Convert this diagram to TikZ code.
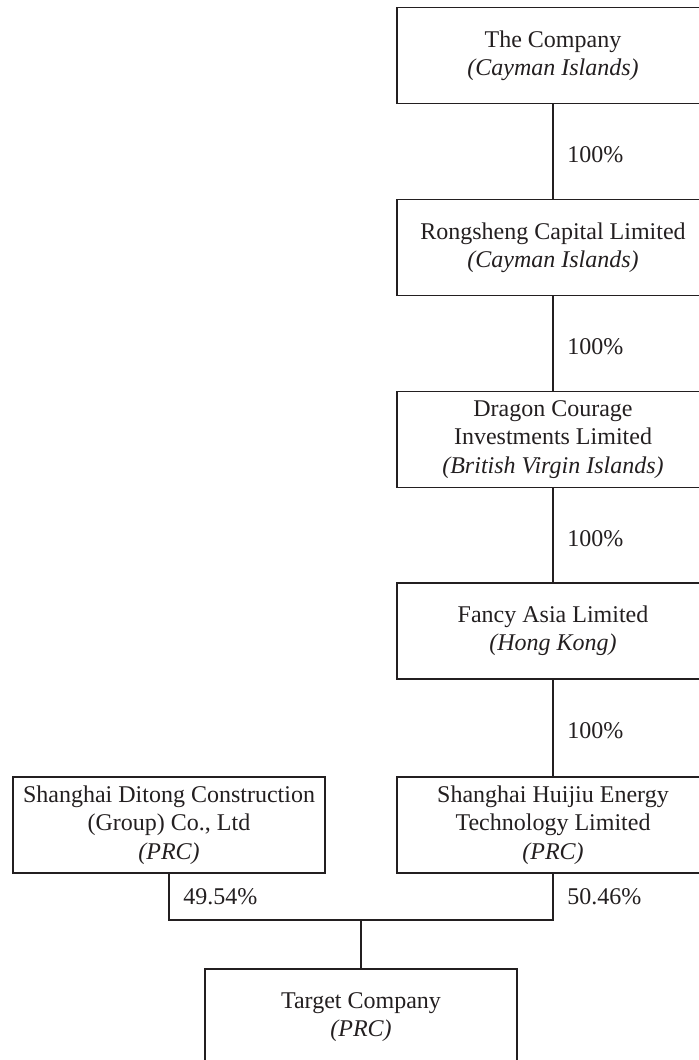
\documentclass[tikz,border=0pt]{standalone}
\usepackage{fontspec}
\setmainfont{Liberation Serif}
\usepackage{xcolor}
\usepackage{tikz}
\definecolor{ink}{HTML}{231F20}

\begin{document}
\begin{tikzpicture}[x=0.5pt,y=-0.5pt,
    ent/.style={draw=ink,line width=0.6pt,minimum width=156pt,minimum height=48pt,align=center,text=ink,font=\fontsize{12}{14.2}\selectfont},
    pct/.style={right,text=ink,xshift=3.5pt,yshift=-1.5pt,font=\fontsize{12}{14.2}\selectfont}]
      \useasboundingbox (0,0) rectangle (699,1060);
      \clip (0,0) rectangle (699,1060);
      \node[ent] (co) at (553,55.5) {The Company\\\textit{(Cayman Islands)}};
      \node[ent] (rong) at (553,247.5) {Rongsheng Capital Limited\\\textit{(Cayman Islands)}};
      \node[ent] (dragon) at (553,439.5) {Dragon Courage\\Investments Limited\\\textit{(British Virgin Islands)}};
      \node[ent] (fancy) at (553,631) {Fancy Asia Limited\\\textit{(Hong Kong)}};
      \node[ent] (huijiu) at (553,825) {Shanghai Huijiu Energy\\Technology Limited\\\textit{(PRC)}};
      \node[ent] (ditong) at (169,825) {Shanghai Ditong Construction\\(Group) Co., Ltd\\\textit{(PRC)}};
      \node[ent] (target) at (361,1017) {Target Company\\\textit{(PRC)}};
      \coordinate (join) at (361,920);
      \draw[ink,line width=0.6pt] (co) -- node[pct] {100\%} (rong);
      \draw[ink,line width=0.6pt] (rong) -- node[pct] {100\%} (dragon);
      \draw[ink,line width=0.6pt] (dragon) -- node[pct] {100\%} (fancy);
      \draw[ink,line width=0.6pt] (fancy) -- node[pct] {100\%} (huijiu);
      \draw[ink,line width=0.6pt] (ditong.south) -- node[pct,yshift=1.5pt] {49.54\%} (ditong.south |- join) -- (huijiu.south |- join) -- node[pct,yshift=1.5pt] {50.46\%} (huijiu.south);
      \draw[ink,line width=0.6pt] (join) -- (target);
    \end{tikzpicture}
\end{document}
